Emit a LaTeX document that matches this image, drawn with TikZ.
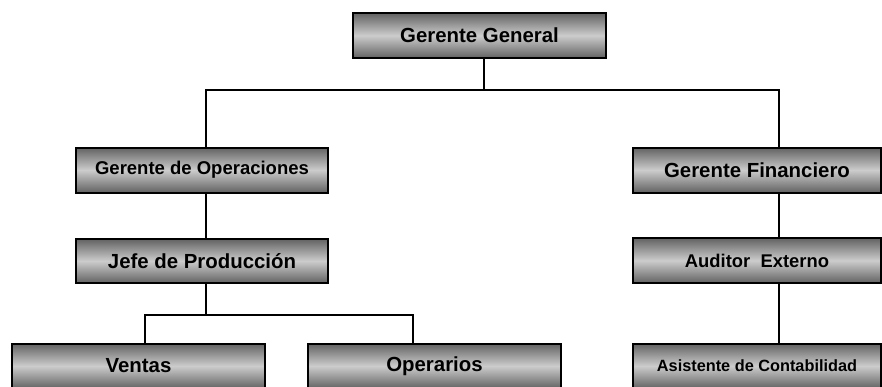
\documentclass[tikz,border=0pt]{standalone}
\usepackage{fontspec}
\setmainfont{Liberation Sans}
\usetikzlibrary{positioning}
\definecolor{boxdark}{RGB}{98,98,98}
\definecolor{boxlight}{RGB}{204,204,204}
\begin{document}
\begin{tikzpicture}[x=1pt,y=-1pt]
\tikzstyle{puesto}=[draw=black,line width=2pt,top color=boxdark,bottom color=boxdark,middle color=boxlight,minimum width=253pt,minimum height=45pt,inner sep=0pt,font=\bfseries\fontsize{20.4}{24}\selectfont]
\tikzstyle{enlace}=[line width=1.6pt,black]
\useasboundingbox (0,0) rectangle (882,386);

\node (gg) [puesto] at (479.5,35.5) {Gerente General};
\node (gop) [puesto, minimum width=252pt, font=\bfseries\fontsize{18.5}{22}\selectfont] at (202,170) {Gerente de Operaciones};
\node (jp) [puesto, minimum width=252pt, minimum height=44pt] at (202,261) {Jefe de Producción};
\node (gf) [puesto, minimum width=248pt] at (757,170) {Gerente Financiero};
\node (ae) [puesto, minimum width=248pt, font=\bfseries\fontsize{18.4}{22}\selectfont] at (757,260.5) {Auditor\ \ Externo};
\node (ac) [puesto, minimum width=248pt, font=\bfseries\fontsize{16.3}{20}\selectfont] at (757,366) {Asistente de Contabilidad};
\node (ven) [puesto] at (138.5,366) {Ventas};
\node (ope) [puesto] at (434.5,366) {Operarios};

\draw [enlace] ([xshift=4.5pt]gg.south) -- ++(0,31) -| ([xshift=4pt]gop.north);
\draw [enlace] ([xshift=4.5pt]gg.south) -- ++(0,31) -| ([xshift=22pt]gf.north);
\draw [enlace] ([xshift=4pt]gop.south) -- ([xshift=4pt]jp.north);
\draw [enlace] ([xshift=4pt]jp.south) -- ++(0,31) -| ([xshift=6.5pt]ven.north);
\draw [enlace] ([xshift=4pt]jp.south) -- ++(0,31) -| ([xshift=-21.5pt]ope.north);
\draw [enlace] ([xshift=22pt]gf.south) -- ([xshift=22pt]ae.north);
\draw [enlace] ([xshift=22pt]ae.south) -- ([xshift=22pt]ac.north);

\end{tikzpicture}
\end{document}
